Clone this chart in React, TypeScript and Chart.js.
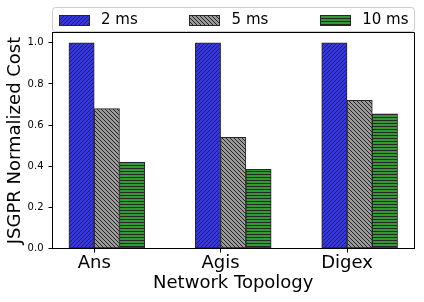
import React, { useEffect, useRef } from "react";
import { Chart, registerables } from "chart.js";

Chart.register(...registerables);

// ---- data ----
const categories = ["Ans", "Agis", "Digex"];
const seriesLabels = ["2 ms", "5 ms", "10 ms"];
const values2ms = [1.0, 1.0, 1.0];
const values5ms = [0.68, 0.54, 0.72];
const values10ms = [0.42, 0.385, 0.655];
const yTicks = [0, 0.2, 0.4, 0.6, 0.8, 1.0];

const seriesValues = [values2ms, values5ms, values10ms];
const seriesColors = ["#3333ff", "#999999", "#339933"];
const seriesHatch = ["/", "\\", "-"];

const FONT = "'DejaVu Sans', sans-serif";
const EDGE = "#262626";
const BAR_W = 0.2;

function makePattern(ctx: CanvasRenderingContext2D, kind: string, bg: string) {
  const c = document.createElement("canvas");
  const s = kind === "-" ? 3 : 4;
  c.width = s;
  c.height = s;
  const g = c.getContext("2d")!;
  g.fillStyle = bg;
  g.fillRect(0, 0, s, s);
  g.strokeStyle = EDGE;
  g.fillStyle = EDGE;
  g.lineWidth = 1;
  if (kind === "-") {
    g.fillRect(0, 0, s, 1);
  } else if (kind === "/") {
    g.beginPath();
    g.moveTo(-1, s + 1); g.lineTo(s + 1, -1);
    g.moveTo(-1, 1); g.lineTo(1, -1);
    g.moveTo(s - 1, s + 1); g.lineTo(s + 1, s - 1);
    g.stroke();
  } else {
    g.beginPath();
    g.moveTo(-1, -1); g.lineTo(s + 1, s + 1);
    g.moveTo(-1, s - 1); g.lineTo(1, s + 1);
    g.moveTo(s - 1, -1); g.lineTo(s + 1, 1);
    g.stroke();
  }
  return ctx.createPattern(c, "repeat")!;
}

export default function App() {
  const ref = useRef<HTMLCanvasElement | null>(null);

  useEffect(() => {
    const canvas = ref.current!;
    const ctx = canvas.getContext("2d")!;
    const patterns = seriesHatch.map((h, k) => makePattern(ctx, h, seriesColors[k]));

    const n = categories.length;
    const lo = -BAR_W;
    const hi = n - 1 + 2 * BAR_W;
    const xm = 0.05 * (hi - lo);
    const allVals = seriesValues.flat();
    const yMax = Math.max(...allVals) * 1.05;

    const framePlugin = {
      id: "frame",
      afterDatasetsDraw(chart: any) {
        const { ctx: c, chartArea: a } = chart;
        c.save();
        c.strokeStyle = "#000";
        c.lineWidth = 1;
        c.beginPath();
        const ty = Math.floor(a.top) + 0.5;
        const rx = Math.floor(a.right) + 0.5;
        c.moveTo(Math.floor(a.left) + 0.5, ty);
        c.lineTo(rx, ty);
        c.lineTo(rx, Math.floor(a.bottom) + 0.5);
        c.stroke();
        c.restore();
      },
    };

    const legendPlugin = {
      id: "mplLegend",
      afterDraw(chart: any) {
        const { ctx: c, chartArea: a } = chart;
        const L = Math.floor(a.left) + 0.5;
        const R = Math.floor(a.right) + 0.5;
        const T = 7.5;
        const B = Math.floor(a.top) - 0.5;
        const r = 3;
        c.save();
        c.beginPath();
        c.moveTo(L + r, T);
        c.lineTo(R - r, T);
        c.arcTo(R, T, R, T + r, r);
        c.lineTo(R, B - r);
        c.arcTo(R, B, R - r, B, r);
        c.lineTo(L + r, B);
        c.arcTo(L, B, L, B - r, r);
        c.lineTo(L, T + r);
        c.arcTo(L, T, L + r, T, r);
        c.closePath();
        c.fillStyle = "rgba(255,255,255,0.8)";
        c.fill();
        c.strokeStyle = "#cccccc";
        c.lineWidth = 1;
        c.stroke();

        c.font = `15px ${FONT}`;
        const patchW = 30;
        const patchH = 10;
        const gapText = 12.5;
        const pad = 6;
        const widths = seriesLabels.map((s) => patchW + gapText + c.measureText(s).width);
        const total = widths.reduce((p, q) => p + q, 0);
        const sep = (R - L - 2 * pad - total) / (seriesLabels.length - 1);
        let x = L + pad;
        const cy = (T + B) / 2 + 0.3;
        seriesLabels.forEach((s, k) => {
          const px = Math.round(x) + 0.5;
          const py = Math.round(cy - patchH / 2) + 0.5;
          c.fillStyle = patterns[k];
          c.fillRect(px, py, patchW, patchH);
          c.strokeStyle = EDGE;
          c.strokeRect(px, py, patchW, patchH);
          c.fillStyle = "#000";
          c.textBaseline = "middle";
          c.textAlign = "left";
          c.fillText(s, x + patchW + gapText, cy);
          x += widths[k] + sep;
        });
        c.restore();
      },
    };

    const chart = new Chart(ctx, {
      type: "bar",
      data: {
        datasets: seriesValues.map((vals, k) => ({
          label: seriesLabels[k],
          data: vals.map((v, i) => ({ x: i + (k - 0.5) * BAR_W, y: v })),
          backgroundColor: patterns[k],
          borderColor: EDGE,
          borderWidth: 1,
          borderSkipped: false,
          grouped: false,
          barPercentage: 1,
          categoryPercentage: 1,
        })),
      },
      options: {
        animation: false,
        responsive: false,
        maintainAspectRatio: false,
        layout: { padding: { top: 32.5, right: 10, left: 0, bottom: 0 } },
        plugins: { legend: { display: false }, tooltip: { enabled: false } },
        scales: {
          x: {
            type: "linear",
            min: lo - xm,
            max: hi + xm,
            offset: false,
            afterBuildTicks: (s: any) => {
              s.ticks = categories.map((_, i) => ({ value: i }));
            },
            afterFit: (s: any) => {
              s.height = 53.5;
            },
            ticks: {
              callback: (v: any) => categories[Math.round(Number(v))] ?? "",
              font: { family: FONT, size: 18 },
              color: "#000",
              padding: 0,
              autoSkip: false,
              maxRotation: 0,
            },
            grid: { display: true, drawOnChartArea: false, drawTicks: true, tickLength: 4, color: "#000", offset: false },
            border: { display: true, color: "#000", width: 1 },
            title: {
              display: true,
              text: "Network Topology",
              font: { family: FONT, size: 18 },
              color: "#000",
              padding: { top: 0, bottom: 8 },
            },
          },
          y: {
            min: 0,
            max: yMax,
            afterBuildTicks: (s: any) => {
              s.ticks = yTicks.map((v) => ({ value: v }));
            },
            afterFit: (s: any) => {
              s.width = 52.5;
            },
            ticks: {
              callback: (v: any) => Number(v).toFixed(1),
              font: { family: FONT, size: 10 },
              color: "#000",
              padding: 5,
            },
            grid: { display: true, drawOnChartArea: false, drawTicks: true, tickLength: 4, color: "#000" },
            border: { display: true, color: "#000", width: 1 },
            title: {
              display: true,
              text: "JSGPR Normalized Cost",
              font: { family: FONT, size: 18 },
              color: "#000",
              padding: { top: 5, bottom: 0 },
            },
          },
        },
      } as any,
      plugins: [framePlugin, legendPlugin],
    });

    return () => chart.destroy();
  }, []);

  return (
    <div style={{ position: "fixed", left: 0, top: 0, width: 424, height: 302, background: "#fff" }}>
      <canvas ref={ref} width={424} height={302} style={{ display: "block" }} />
    </div>
  );
}
